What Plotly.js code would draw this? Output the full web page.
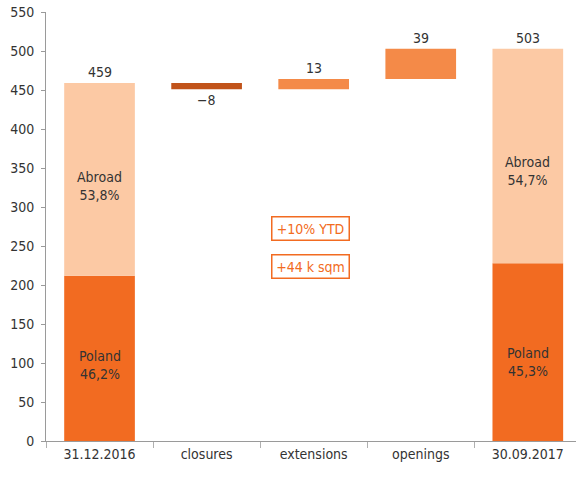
<!DOCTYPE html>
<html>
<head>
<meta charset="utf-8">
<script src="https://cdn.plot.ly/plotly-3.0.1.min.js"></script>
<style>html,body{margin:0;padding:0;background:#fff;}#chart{width:576px;height:477px;}</style>
</head>
<body>
<div id="chart"></div>
<script>
// ---- data ----
var categories = ['31.12.2016', 'closures', 'extensions', 'openings', '30.09.2017'];
var endCategories = ['31.12.2016', '30.09.2017'];
var polandValues = [212, 228];
var abroadValues = [247, 275];
var totals = [459, 503];
var polandShares = ['46,2%', '45,3%'];
var abroadShares = ['53,8%', '54,7%'];
var changeCategories = ['closures', 'extensions', 'openings'];
var changeValues = [-8, 13, 39];
var changeLabels = ['\u22128', '13', '39'];
var boxTexts = ['+10% YTD', '+44 k sqm'];
var yTicks = [0, 50, 100, 150, 200, 250, 300, 350, 400, 450, 500, 550];

(function () {
  // ---- styles ----
  var FONT = '"Liberation Sans Narrow", "DejaVu Sans Condensed", "Liberation Sans", sans-serif';
  var C_POLAND = '#F26B21';
  var C_ABROAD = '#FCC9A4';
  var C_NEG = '#C1531A';
  var C_POS = '#F48A48';
  var TXT = '#333333';
  var BW = 0.66;
  var polandShift = [-7, -10];
  var abroadShift = [-7, -15];
  var boxPos = [{x: 1.97, y: 273}, {x: 1.97, y: 224}];

  // waterfall bases computed from the start total
  var changeBases = [];
  var running = totals[0];
  for (var i = 0; i < changeValues.length; i++) {
    changeBases.push(running);
    running += changeValues[i];
  }

  var traces = [
    {type: 'bar', x: endCategories, y: polandValues, base: [0, 0], width: BW,
     marker: {color: C_POLAND}, hoverinfo: 'skip', showlegend: false},
    {type: 'bar', x: endCategories, y: abroadValues, base: polandValues, width: BW,
     marker: {color: C_ABROAD}, hoverinfo: 'skip', showlegend: false},
    {type: 'bar', x: changeCategories, y: changeValues, base: changeBases, width: BW,
     marker: {color: changeValues.map(function (v) { return v < 0 ? C_NEG : C_POS; })},
     hoverinfo: 'skip', showlegend: false}
  ];

  var annotations = [];
  for (var j = 0; j < endCategories.length; j++) {
    annotations.push({x: endCategories[j], y: totals[j], xref: 'x', yref: 'y', text: String(totals[j]),
      showarrow: false, yanchor: 'bottom', yshift: 1, font: {family: FONT, size: 14, color: TXT}});
    annotations.push({x: endCategories[j], y: polandValues[j] / 2, xref: 'x', yref: 'y',
      text: 'Poland<br>' + polandShares[j], showarrow: false, yshift: polandShift[j],
      font: {family: FONT, size: 14, color: TXT}});
    annotations.push({x: endCategories[j], y: polandValues[j] + abroadValues[j] / 2, xref: 'x', yref: 'y',
      text: 'Abroad<br>' + abroadShares[j], showarrow: false, yshift: abroadShift[j],
      font: {family: FONT, size: 14, color: TXT}});
  }
  for (var k = 0; k < changeCategories.length; k++) {
    var v = changeValues[k];
    var hi = Math.max(changeBases[k], changeBases[k] + v);
    var lo = Math.min(changeBases[k], changeBases[k] + v);
    annotations.push({x: changeCategories[k], y: v < 0 ? lo : hi, xref: 'x', yref: 'y',
      text: changeLabels[k], showarrow: false, yanchor: v < 0 ? 'top' : 'bottom', yshift: v < 0 ? -1 : 1,
      font: {family: FONT, size: 14, color: TXT}});
  }
  for (var b = 0; b < boxTexts.length; b++) {
    annotations.push({x: boxPos[b].x, y: boxPos[b].y, xref: 'x', yref: 'y', text: boxTexts[b], showarrow: false,
      font: {family: FONT, size: 14, color: C_POLAND}, bordercolor: C_POLAND, borderwidth: 1.5,
      borderpad: 3, width: 70, align: 'center', bgcolor: '#ffffff'});
  }

  var layout = {
    width: 576, height: 477,
    margin: {l: 46, r: 0, t: 12, b: 36},
    paper_bgcolor: '#ffffff', plot_bgcolor: '#ffffff',
    barmode: 'overlay',
    showlegend: false,
    font: {family: FONT, size: 14, color: TXT},
    xaxis: {type: 'category', categoryorder: 'array', categoryarray: categories,
      range: [-0.5, 4.45], showgrid: false, zeroline: false,
      showline: true, linecolor: '#9a9a9a', linewidth: 1,
      ticks: 'outside', tickson: 'boundaries', ticklen: 6, tickcolor: '#b0b0b0', tickwidth: 1,
      tickfont: {family: FONT, size: 14, color: TXT}, fixedrange: true},
    yaxis: {range: [0, 550], tickvals: yTicks, showgrid: false, zeroline: false,
      showline: true, linecolor: '#9a9a9a', linewidth: 1,
      ticks: 'outside', ticklen: 4, tickcolor: '#9a9a9a', tickwidth: 1, ticklabelstandoff: 4,
      tickfont: {family: FONT, size: 14, color: TXT}, fixedrange: true},
    annotations: annotations
  };

  Plotly.newPlot('chart', traces, layout, {displayModeBar: false, staticPlot: true});
})();
</script>
</body>
</html>
